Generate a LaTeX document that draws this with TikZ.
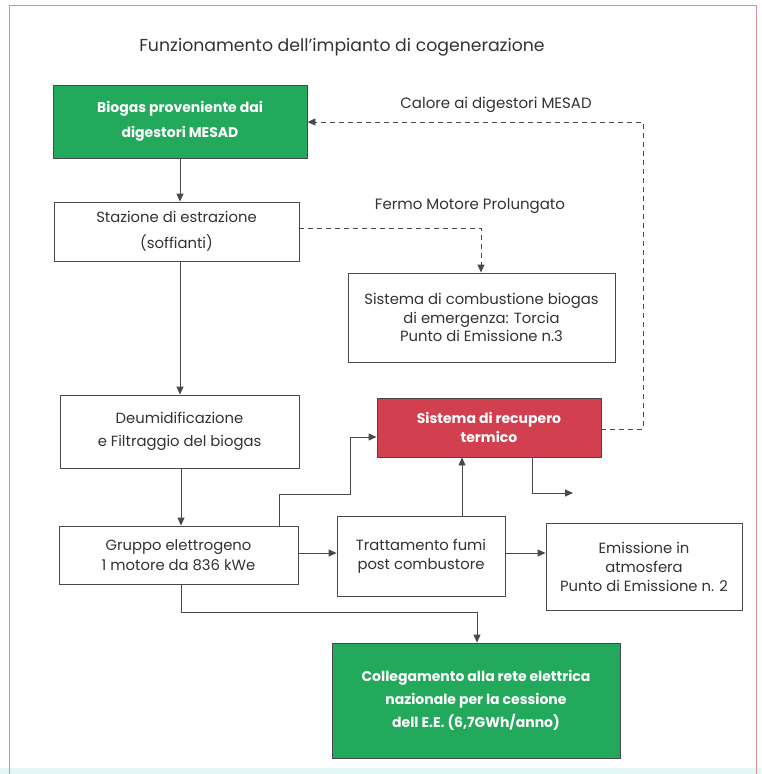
\documentclass[tikz,border=0pt]{standalone}
\usepackage{fontspec}
\setmainfont{Poppins}
\usetikzlibrary{arrows.meta,calc}
\definecolor{greenc}{HTML}{22A95B}
\definecolor{redc}{HTML}{D2404F}
\definecolor{boxc}{HTML}{4A474D}
\definecolor{txtc}{HTML}{333335}
\definecolor{linec}{HTML}{4A474D}
\definecolor{framec}{HTML}{DB8F9A}
\definecolor{bandc}{HTML}{E4F6F6}
\begin{document}
\begin{tikzpicture}[x=1pt,y=-1pt,
  box/.style={draw=boxc, line width=0.9pt, fill=white, text=txtc, align=center, inner sep=0pt},
  gbox/.style={box, fill=greenc, text=white},
  rbox/.style={box, fill=redc, text=white},
  nf/.style={font=\fontsize{14.8}{#1}\selectfont},
  bf/.style={font=\fontsize{14}{#1}\selectfont\bfseries},
  lbl/.style={text=txtc, inner sep=0pt, font=\fontsize{15}{18}\selectfont},
  arr/.style={draw=linec, line width=0.9pt, -{Triangle[length=8pt,width=7pt]}},
  dsh/.style={arr, dash pattern=on 5pt off 4pt}]
\useasboundingbox (0,0) rectangle (761,774);
\fill[white] (0,0) rectangle (761,774);
% frame
\fill[bandc] (0,768) rectangle (761,774);
\draw[framec, line width=1pt] (9,774) -- (9,5) -- (756,5) -- (756,774);

% title
\node[text=txtc, inner sep=0pt, font=\fontsize{17.3}{21}\selectfont] (title) at (342,47) {Funzionamento dell’impianto di cogenerazione};

% boxes
\node[gbox, bf=25, minimum width=254, minimum height=73] (B) at (180,121.5) {Biogas proveniente dai\\digestori MESAD};
\node[box, nf=26, minimum width=245, minimum height=59] (S) at (176.5,231.5) {Stazione di estrazione\\(soffianti)};
\node[box, nf=18.5, minimum width=267, minimum height=89] (C) at (481.5,317.5) {Sistema di combustione biogas\\di emergenza: Torcia\\Punto di Emissione n.3};
\node[box, nf=23, minimum width=239, minimum height=73] (D) at (179.5,431.5) {Deumidificazione\\e Filtraggio del biogas};
\node[rbox, bf=18.5, minimum width=224, minimum height=59] (R) at (489,427.5) {Sistema di recupero\\termico};
\node[box, nf=20, minimum width=239, minimum height=58] (G) at (178.5,555) {Gruppo elettrogeno\\1 motore da 836 kWe};
\node[box, nf=19, minimum width=168, minimum height=80] (T) at (421,556) {Trattamento fumi\\post combustore};
\node[box, nf=19, minimum width=196, minimum height=87] (E) at (644,566.5) {Emissione in\\atmosfera\\Punto di Emissione n. 2};
\node[gbox, bf=23, minimum width=288, minimum height=115] (K) at (476,700.5) {Collegamento alla rete elettrica\\nazionale per la cessione\\dell E.E. (6,7GWh/anno)};

% labels
\node[lbl] (l1) at (496,105) {Calore ai digestori MESAD};
\node[lbl] (l2) at (470,206) {Fermo Motore Prolungato};

% coordinates
\coordinate (c1) at (180,0);
\coordinate (c2) at (279,494);
\coordinate (c3) at (350,494);
\coordinate (c4) at (350,437);
\coordinate (c5) at (532,493);
\coordinate (fr) at (573,493);
\coordinate (d1) at (643,429);
\coordinate (d2) at (643,122);
\coordinate (e1) at (481,228);
\coordinate (g1) at (181,612);
\coordinate (g2) at (477,612);
\coordinate (tx) at (462,0);

% solid connectors
\draw[arr] (B.south -| c1) -- (S.north -| c1);
\draw[arr] (S.south -| c1) -- (D.north -| c1);
\draw[arr] (D.south -| g1) -- (G.north -| g1);
\draw[arr] (G.east |- 0,553) -- (T.west |- 0,553);
\draw[arr] (T.east |- 0,553) -- (E.west |- 0,553);
\draw[arr] (T.north -| tx) -- (R.south -| tx);
\draw[arr] (G.north -| c2) -- (c2) -- (c3) -- (c4) -- (R.west |- c4);
\draw[arr] (R.south -| c5) -- (c5) -- (fr);
\draw[arr] (G.south -| g1) -- (g1) -- (g2) -- (K.north -| g2);

% dashed connectors
\draw[dsh] (R.east |- d1) -- (d1) -- (d2) -- (B.east |- d2);
\draw[dsh] (S.east |- e1) -- (e1) -- (C.north -| e1);
\end{tikzpicture}
\end{document}
